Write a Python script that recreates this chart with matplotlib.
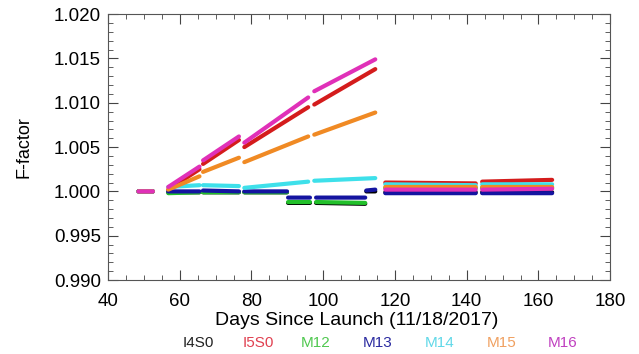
import numpy as np
import matplotlib.pyplot as plt
from matplotlib.ticker import MultipleLocator, FormatStrFormatter

plt.rcParams['font.family'] = ['Liberation Sans', 'DejaVu Sans']

nan = np.nan

# days / F-factor, NaN = gap between segments
i4s0_day = [48.5, 52.5, nan, 56.8, 65.5, nan, 66.5, 76.5, nan, 78, 89.9, nan, 90.2, 96.3, nan, 98.0, 111.7, nan, 112.0, 114.5, nan, 117.3, 142.5, nan, 144.3, 163.8]
i4s0_val = [1.0000, 1.0000, nan, 0.9999, 0.9999, nan, 0.9999, 0.9999, nan, 0.9999, 0.9999, nan, 0.9987, 0.9987, nan, 0.9987, 0.9986, nan, 1.0000, 1.0000, nan, 0.9999, 0.9999, nan, 0.9999, 0.9999]

i5s0_day = [48.5, 52.5, nan, 56.8, 65.5, nan, 66.5, 76.5, nan, 78, 95.8, nan, 97.5, 114.5, nan, 117.3, 142.5, nan, 144.3, 163.8]
i5s0_val = [1.0000, 1.0000, nan, 1.0002, 1.0025, nan, 1.0031, 1.0058, nan, 1.0050, 1.0095, nan, 1.0098, 1.0138, nan, 1.0010, 1.0009, nan, 1.0011, 1.0013]

m12_day = [48.5, 52.5, nan, 56.8, 65.5, nan, 66.5, 76.5, nan, 78, 89.9, nan, 90.2, 96.3, nan, 98.0, 111.7, nan, 117.3, 142.5, nan, 144.3, 163.8]
m12_val = [1.0000, 1.0000, nan, 0.9998, 0.9999, nan, 0.9999, 0.9999, nan, 0.9999, 0.9999, nan, 0.9988, 0.9988, nan, 0.9988, 0.9987, nan, 1.0004, 1.0004, nan, 1.0004, 1.0004]

m13_day = [48.5, 52.5, nan, 56.8, 65.5, nan, 66.5, 76.5, nan, 78, 89.9, nan, 90.2, 96.3, nan, 98.0, 111.7, nan, 112.0, 114.5, nan, 117.3, 142.5, nan, 144.3, 163.8]
m13_val = [1.0000, 1.0000, nan, 1.0000, 1.0000, nan, 1.0001, 1.0000, nan, 1.0000, 1.0000, nan, 0.9993, 0.9993, nan, 0.9993, 0.9993, nan, 1.0001, 1.0002, nan, 0.9998, 0.9998, nan, 0.9998, 0.9998]

m14_day = [48.5, 52.5, nan, 56.8, 65.5, nan, 66.5, 76.5, nan, 78, 95.8, nan, 97.5, 114.5, nan, 117.3, 142.5, nan, 144.3, 163.8]
m14_val = [1.0000, 1.0000, nan, 1.0005, 1.0007, nan, 1.0007, 1.0006, nan, 1.0004, 1.0011, nan, 1.0012, 1.0015, nan, 1.0008, 1.0007, nan, 1.0008, 1.0008]

m15_day = [48.5, 52.5, nan, 56.8, 65.5, nan, 66.5, 76.5, nan, 78, 95.8, nan, 97.5, 114.5, nan, 117.3, 142.5, nan, 144.3, 163.8]
m15_val = [1.0000, 1.0000, nan, 1.0002, 1.0017, nan, 1.0022, 1.0038, nan, 1.0033, 1.0062, nan, 1.0064, 1.0089, nan, 1.0005, 1.0005, nan, 1.0005, 1.0005]

m16_day = [48.5, 52.5, nan, 56.8, 65.5, nan, 66.5, 76.5, nan, 78, 95.8, nan, 97.5, 114.5, nan, 117.3, 142.5, nan, 144.3, 163.8]
m16_val = [1.0000, 1.0000, nan, 1.0005, 1.0028, nan, 1.0035, 1.0062, nan, 1.0055, 1.0106, nan, 1.0113, 1.0149, nan, 1.0002, 1.0002, nan, 1.0002, 1.0003]

names = ['I4S0', 'I5S0', 'M12', 'M13', 'M14', 'M15', 'M16']
days = [i4s0_day, i5s0_day, m12_day, m13_day, m14_day, m15_day, m16_day]
vals = [i4s0_val, i5s0_val, m12_val, m13_val, m14_val, m15_val, m16_val]
colors = ['#000000', '#d41c1c', '#22c02a', '#1414a0', '#3ee0ea', '#f08a24', '#e030b8']
label_colors = ['#222222', '#e04050', '#50c850', '#2a2aa0', '#60d8e8', '#f0a060', '#c040c0']

fig = plt.figure(figsize=(6.39, 3.54), dpi=100)
ax = fig.add_axes([0.169, 0.209, 0.786, 0.751])

for d, v, c in zip(days, vals, colors):
    ax.plot(d, v, color=c, lw=3.0, solid_capstyle='round')

ax.set_xlim(40, 180)
ax.set_ylim(0.990, 1.020)
ax.xaxis.set_major_locator(MultipleLocator(20))
ax.xaxis.set_minor_locator(MultipleLocator(5))
ax.yaxis.set_major_locator(MultipleLocator(0.005))
ax.yaxis.set_minor_locator(MultipleLocator(0.001))
ax.yaxis.set_major_formatter(FormatStrFormatter('%.3f'))
ax.tick_params(which='both', direction='in', top=True, right=True, color='#444444')
ax.tick_params(which='major', length=7, labelsize=13.5)
ax.tick_params(which='minor', length=3.5)
ax.tick_params(axis='x', pad=9)
ax.tick_params(axis='y', pad=5)
for s in ax.spines.values():
    s.set_color('#555555')

ax.set_xlabel('Days Since Launch (11/18/2017)', fontsize=14)
ax.xaxis.set_label_coords(0.495, -0.12)
ax.set_ylabel('F-factor', fontsize=13)
ax.yaxis.set_label_coords(-0.15, 0.5)

xs = [198, 258, 316, 378, 440, 502, 563]
for n, c, x in zip(names, label_colors, xs):
    fig.text(x / 639, 0.031, n, color=c, fontsize=11, ha='center', va='center')

fig.savefig('out.png', dpi=100)
